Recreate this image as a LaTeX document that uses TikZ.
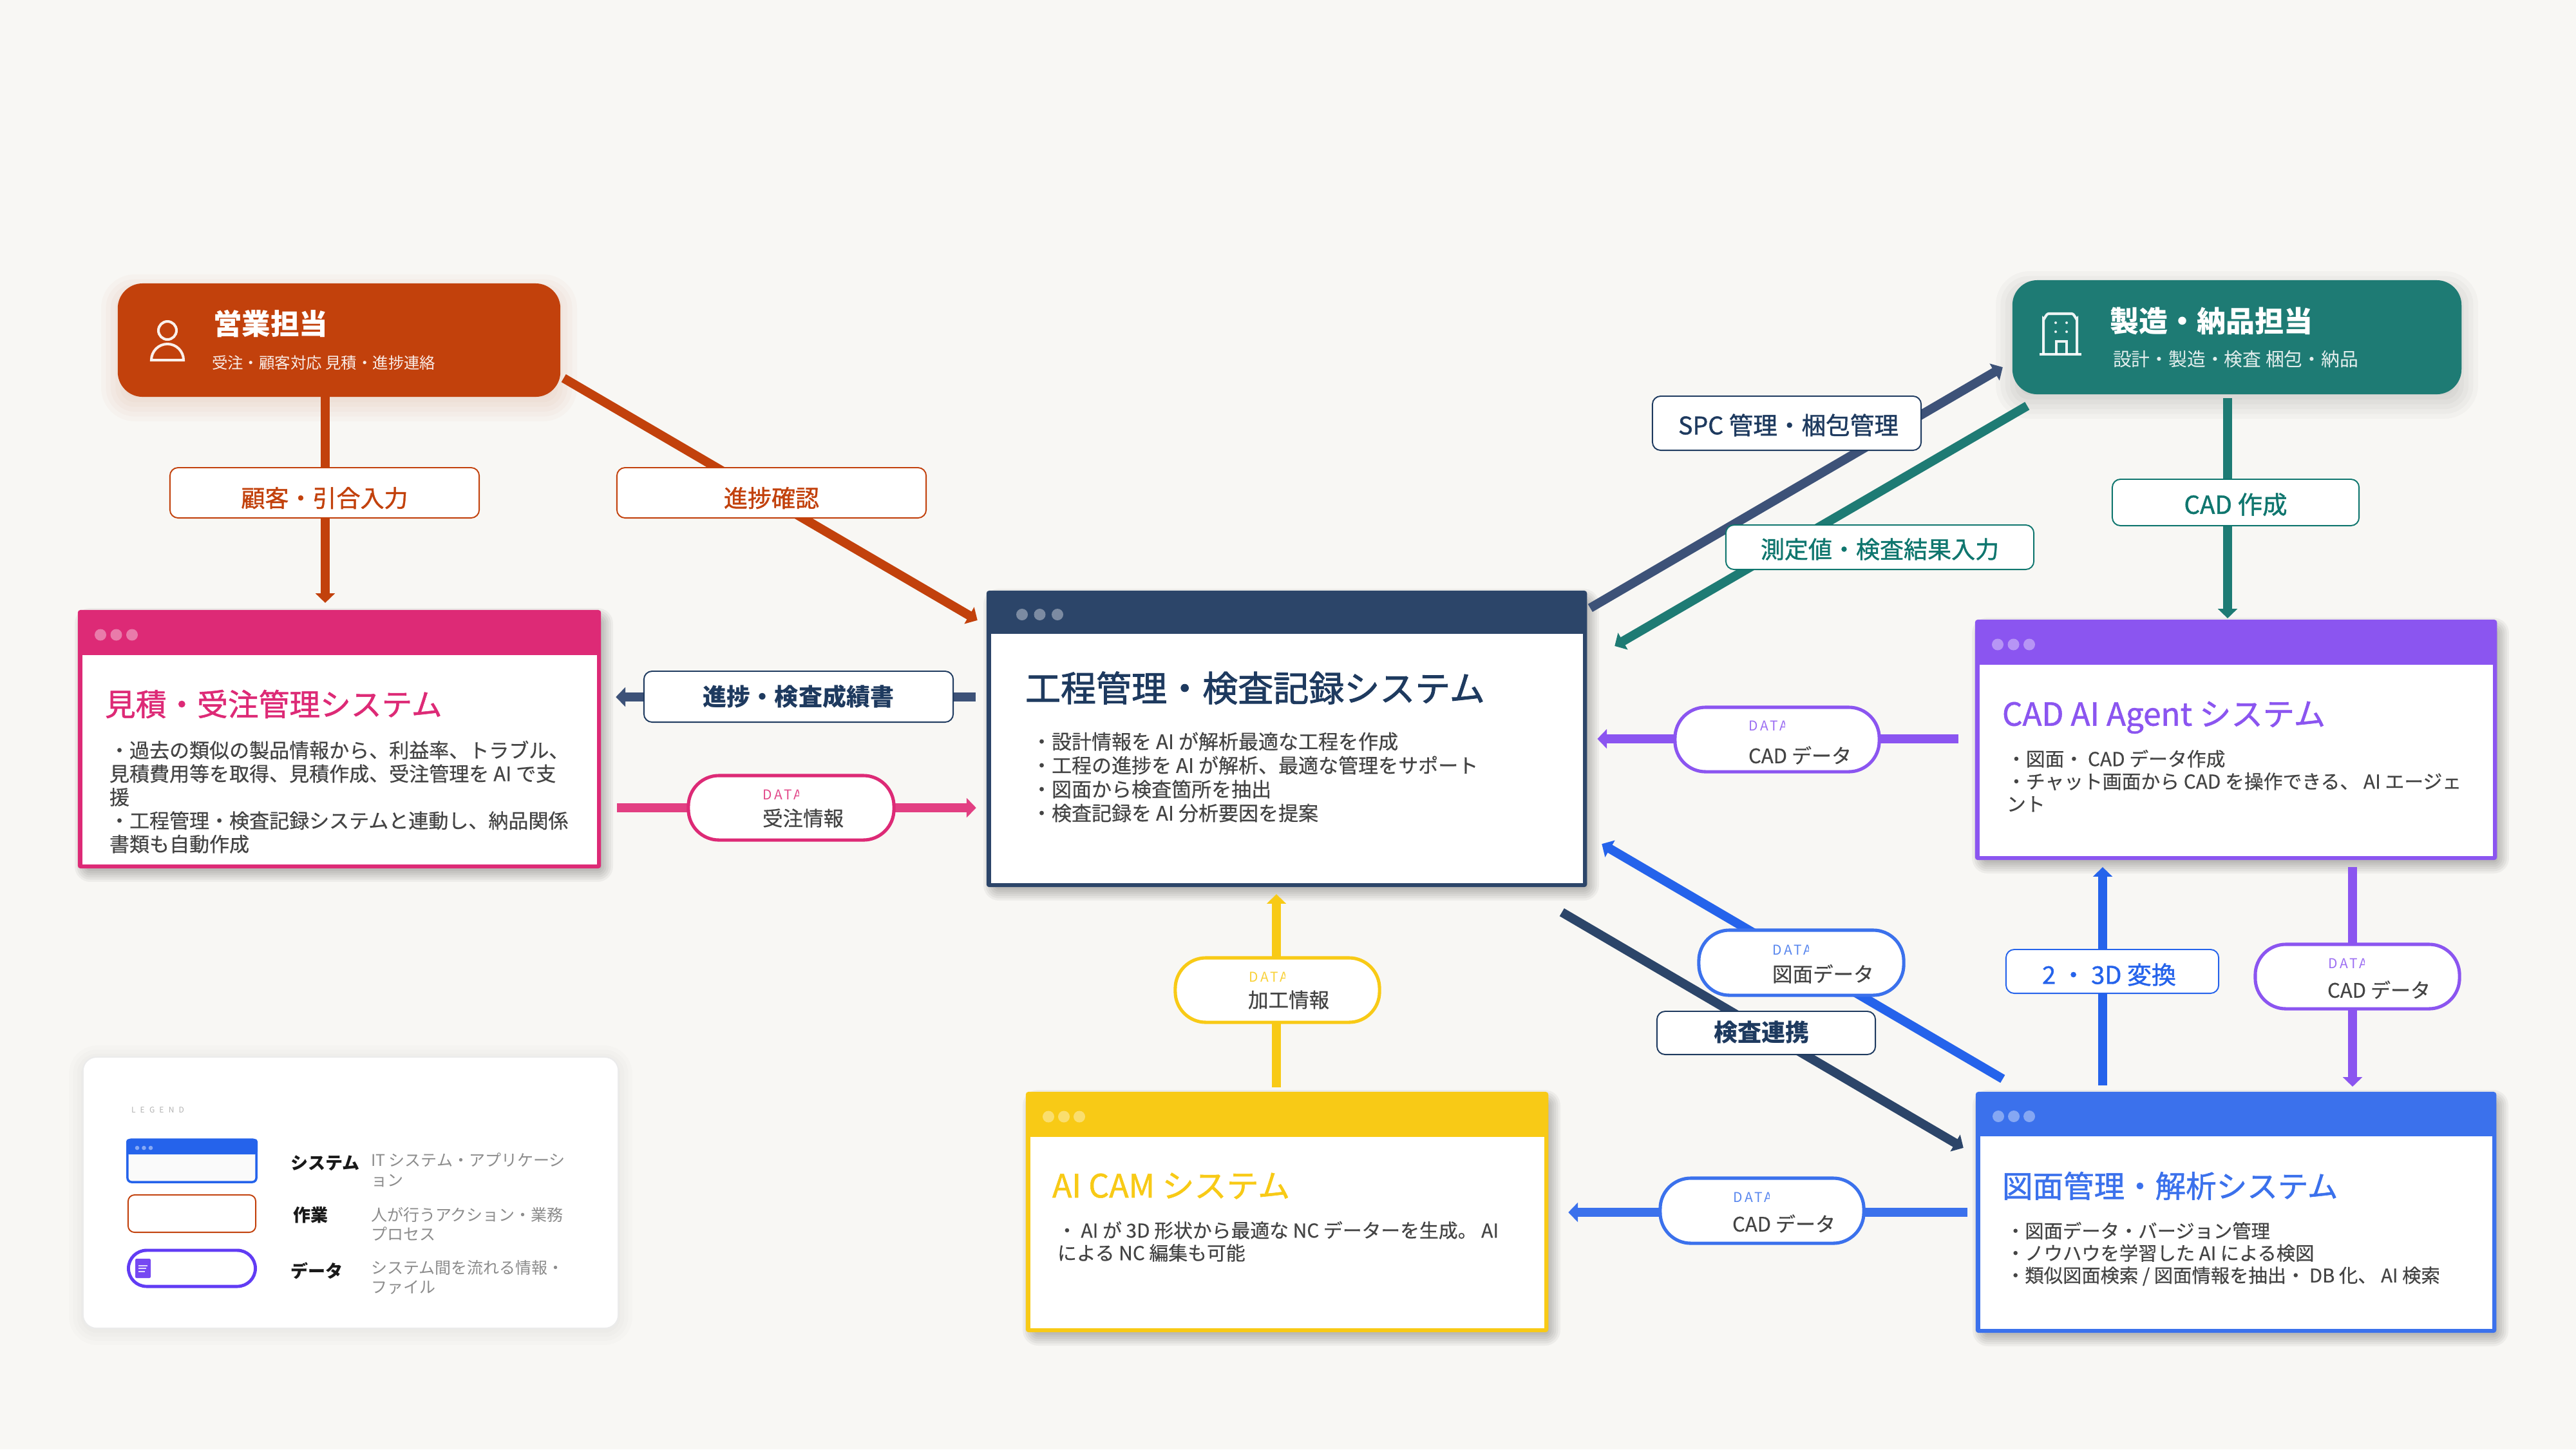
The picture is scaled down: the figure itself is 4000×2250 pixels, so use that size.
\documentclass[tikz,border=0pt]{standalone}
\usepackage{fontspec}
\setmainfont{Noto Sans CJK JP}
\newfontfamily\medfont[FakeBold=1.1]{Noto Sans CJK JP}
\newfontfamily\semifont[FakeBold=1.6]{Noto Sans CJK JP}
\newfontfamily\bodyfont[FakeBold=0.4]{Noto Sans CJK JP}
\newfontfamily\dataspaced[LetterSpace=18]{Noto Sans CJK JP}
\newfontfamily\legendspaced[LetterSpace=60]{Noto Sans CJK JP}
\usetikzlibrary{arrows.meta,calc}
\newdimen\pxu \pxu=0.28453pt
\newcommand\fpx[2]{\fontsize{#1\pxu}{#2\pxu}\selectfont}
\newcommand\cj{\rule[-.12em]{0pt}{1em}}
\definecolor{bgc}{HTML}{F8F7F4}
\definecolor{salesc}{HTML}{C2410C}
\definecolor{tealc}{HTML}{1E7B74}
\definecolor{tealt}{HTML}{0F766E}
\definecolor{pinkc}{HTML}{DD2A76}
\definecolor{pinkl}{HTML}{E23F82}
\definecolor{navyc}{HTML}{2C4569}
\definecolor{navyt}{HTML}{1E3A5F}
\definecolor{navyl}{HTML}{3D5278}
\definecolor{purpc}{HTML}{8B55F0}
\definecolor{bluec}{HTML}{3B71EC}
\definecolor{bluel}{HTML}{2563EB}
\definecolor{yelc}{HTML}{F8CA16}
\definecolor{bodyc}{HTML}{444444}
\tikzset{
  flow/.style={draw=#1,line width=4pt,-{Triangle[length=4.2pt,width=8.4pt]}},
  tagbox/.style={draw=#1,fill=white,line width=.55pt,rounded corners=3.6pt,inner sep=0pt,text=#1},
  pill/.style={draw=#1,fill=white,line width=1.45pt,rounded corners=13.5pt,inner sep=0pt},
  tx/.style={anchor=west,inner sep=0pt,outer sep=0pt},
  bodyblock/.style={anchor=north west,inner sep=0pt,outer sep=0pt,align=left,text=bodyc},
  winbox/.style={fill=#1,inner sep=0pt,outer sep=0pt,rounded corners=1.2pt},
  actor/.style={fill=#1,inner sep=0pt,outer sep=0pt,rounded corners=11pt},
  iconline/.style={draw=white,line width=1.15pt,opacity=.92}
}
% soft shadow: x1 y1 x2 y2 dx dy blur opacity colour
\newcommand\softshadow[9]{%
  \foreach \i in {0,...,7}{%
    \pgfmathsetmacro\e{#7*(1-2*\i/7)}%
    \pgfmathsetmacro\r{max(1,(\e+#7)*0.2845)}%
    \fill[#9,opacity=#8,rounded corners=\r pt]
      ({#1+#5-\e},{#2+#6-\e}) rectangle ({#3+#5+\e},{#4+#6+\e});
  }%
}
% window: name x1 y1 x2 y2 headerbottom colour dotdx dotstep
\newcommand\window[9]{%
  \softshadow{#2}{#3}{#4}{#5}{7}{9}{12}{.042}{black}%
  \pgfmathsetmacro\cx{(#2+#4)/2}\pgfmathsetmacro\cy{(#3+#5)/2}%
  \pgfmathsetmacro\ww{(#4-#2)/100}\pgfmathsetmacro\hh{(#5-#3)/100}%
  \node[winbox=#7,minimum width=\ww cm,minimum height=\hh cm] (#1) at (\cx,\cy) {};
  \fill[white] ({#2+6.5},#6) rectangle ({#4-6.5},{#5-6.5});
  \pgfmathsetmacro\dy{(#3+#6)/2+3.5}%
  \foreach \k in {0,1,2}{\fill[white,opacity=.38] ({#2+#8+\k*#9},\dy) circle (9);}%
}
\newcommand\tx[6]{\node[tx,font=\fpx{#4}{#4},text=#5] (#1) at (#2,#3) {\cj #6};}
\newcommand\bdtx[6]{\node[tx,font=\bodyfont\fpx{#4}{#4},text=#5] (#1) at (#2,#3) {\cj #6};}
\newcommand\medtx[6]{\node[tx,font=\medfont\fpx{#4}{#4},text=#5] (#1) at (#2,#3) {\cj #6};}
\newcommand\semitx[6]{\node[tx,font=\semifont\fpx{#4}{#4},text=#5] (#1) at (#2,#3) {\cj #6};}
\newcommand\boldtx[6]{\node[tx,font=\bfseries\fpx{#4}{#4},text=#5] (#1) at (#2,#3) {\cj #6};}
\newcommand\datatag[4]{%
  \begin{scope}
    \clip ({#2-3},{#3-16}) rectangle ({#2+56},{#3+16});
    \node[tx,font=\dataspaced\fpx{21}{21},text=#4,opacity=.85] (#1) at (#2,#3) {DATA};
  \end{scope}}
\newcommand\lbl[2]{\raisebox{-#1\pxu}[.88em][.12em]{#2}}
\begin{document}
\begin{tikzpicture}[x=0.01cm,y=-0.01cm]
\useasboundingbox (0,0) rectangle (4000,2250);
\fill[bgc] (0,0) rectangle (4000,2250);

% actors
\softshadow{183}{440}{870}{616}{0}{12}{26}{.022}{salesc}
\node[actor=salesc,minimum width=6.87cm,minimum height=1.76cm] (sales) at (526.5,528) {};
\softshadow{3125}{435}{3822}{612}{0}{12}{26}{.022}{black}
\node[actor=tealc,minimum width=6.97cm,minimum height=1.77cm] (maker) at (3473.5,523.5) {};

% person icon
\draw[iconline] (260,513) circle (14);
\draw[iconline] (235,559) arc[start angle=180,end angle=360,x radius=25,y radius=25] -- cycle;
% building icon
\draw[iconline] (3173,550) -- (3173,495) to[out=-90,in=180] (3181,487) -- (3217,487) to[out=0,in=-90] (3225,495) -- (3225,550);
\draw[iconline] (3167,550) -- (3232,550);
\draw[iconline] (3193,550) -- (3193,530) -- (3209,530) -- (3209,550);
\foreach \px in {3192,3209}\foreach \py in {501,515}{\fill[white,opacity=.9] (\px,\py) circle (2);}

\boldtx{salesT}{331}{503}{44.5}{white}{営業担当}
\tx{salesS}{329}{563}{24.4}{white!90!salesc}{受注・顧客対応 見積・進捗連絡}
\boldtx{makerT}{3276}{498}{45}{white}{製造・納品担当}
\tx{makerS}{3281}{558}{28.8}{white!88!tealc}{設計・製造・検査 梱包・納品}

% windows
\window{estim}{121}{947}{933}{1348}{1017}{pinkc}{35}{24.5}
\window{proc}{1532}{917}{2464}{1377}{984}{navyc}{55}{27.5}
\window{cadai}{3067}{962}{3877}{1335}{1032}{purpc}{35}{24.5}
\window{cam}{1593}{1695}{2404}{2068}{1765}{yelc}{35}{24}
\window{plan}{3068}{1695}{3876}{2069}{1764}{bluec}{35}{24}

\medtx{estimT}{163}{1093}{47.7}{pinkc}{見積・受注管理システム}
\node[bodyblock,font=\bodyfont\fpx{31}{36.4}] (estimB) at (170,1149) {\cj ・過去の類似の製品情報から、利益率、トラブル、\\見積費用等を取得、見積作成、受注管理を AI で支\\援\\・工程管理・検査記録システムと連動し、納品関係\\書類も自動作成};

\semitx{procT}{1592}{1068}{55}{navyt}{工程管理・検査記録システム}
\node[bodyblock,font=\bodyfont\fpx{31}{37}] (procB) at (1602,1135.5) {\cj ・設計情報を AI が解析最適な工程を作成\\・工程の進捗を AI が解析、最適な管理をサポート\\・図面から検査箇所を抽出\\・検査記録を AI 分析要因を提案};

\medtx{cadaiT}{3109}{1111}{49.3}{purpc}{CAD AI Agent システム}
\node[bodyblock,font=\bodyfont\fpx{29.8}{35}] (cadaiB) at (3116,1163) {\cj ・図面・ CAD データ作成\\・チャット画面から CAD を操作できる、 AI エージェ\\ント};

\medtx{camT}{1634}{1840}{50}{yelc}{AI CAM システム}
\node[bodyblock,font=\bodyfont\fpx{29.8}{35}] (camB) at (1642,1895) {\cj ・ AI が 3D 形状から最適な NC データーを生成。 AI\\による NC 編集も可能};

\medtx{planT}{3109}{1841}{47.5}{bluec}{図面管理・解析システム}
\node[bodyblock,font=\bodyfont\fpx{29.3}{34.5}] (planB) at (3115,1896) {\cj ・図面データ・バージョン管理\\・ノウハウを学習した AI による検図\\・類似図面検索 / 図面情報を抽出・ DB 化、 AI 検索};

% connectors
\draw[flow=salesc] ([shift={(-21.5,0)}]sales.south) -- ([shift={(-22,-11)}]estim.north);
\draw[flow=salesc] ([shift={(5,-29)}]sales.south east) -- ([shift={(-14,46)}]proc.north west);
\draw[flow=navyl] ([shift={(-17,-65)}]proc.west) -- ([shift={(23,-65.5)}]estim.east);
\draw[flow=pinkl] ([shift={(25,106.5)}]estim.east) -- ([shift={(-16,107)}]proc.west);
\draw[flow=navyl] ([shift={(5,27)}]proc.north east) -- ([shift={(-15,-42)}]maker.south west);
\draw[flow=tealc] ([shift={(23,18)}]maker.south west) -- ([shift={(43,86)}]proc.north east);
\draw[flow=tealc] ([shift={(-14.5,6)}]maker.south) -- ([shift={(-13,-2)}]cadai.north);
\draw[flow=purpc] ([shift={(-26,-1.5)}]cadai.west) -- ([shift={(16,0)}]proc.east);
\draw[flow=bluel] ([shift={(42,-20)}]plan.north west) -- ([shift={(23,-67)}]proc.south east);
\draw[flow=navyc] ([shift={(-39,39)}]proc.south east) -- ([shift={(-19,87)}]plan.north west);
\draw[flow=bluel] ([shift={(-207,-10)}]plan.north) -- ([shift={(-207,11)}]cadai.south);
\draw[flow=purpc] ([shift={(181,11)}]cadai.south) -- ([shift={(181,-8)}]plan.north);
\draw[flow=bluec] ([shift={(-13,0)}]plan.west) -- ([shift={(31,.5)}]cam.east);
\draw[flow=yelc] ([shift={(-16.5,-7)}]cam.north) -- ([shift={(-16,11)}]proc.south);

% task labels
\node[tagbox=salesc,font=\medfont\fpx{37}{37},minimum width=4.8cm,minimum height=.78cm] (tagCust) at (504,765) {\lbl{8}{顧客・引合入力}};
\node[tagbox=salesc,font=\medfont\fpx{37}{37},minimum width=4.8cm,minimum height=.78cm] (tagProg) at (1198,765) {\lbl{8}{進捗確認}};
\node[tagbox=navyt,font=\bfseries\fpx{37}{37},minimum width=4.8cm,minimum height=.79cm] (tagRep) at (1240,1081.5) {\lbl{0}{進捗・検査成績書}};
\node[tagbox=navyt,font=\medfont\fpx{37.6}{37.6},minimum width=4.17cm,minimum height=.84cm] (tagSpc) at (2774.5,657) {\lbl{3}{\kern5\pxu SPC 管理・梱包管理}};
\node[tagbox=tealt,font=\medfont\fpx{37}{37},minimum width=4.78cm,minimum height=.69cm] (tagMeas) at (2919,849.5) {\lbl{3}{測定値・検査結果入力}};
\node[tagbox=tealt,font=\medfont\fpx{38.5}{38.5},minimum width=3.83cm,minimum height=.72cm] (tagCad) at (3471.5,780) {\lbl{3}{CAD 作成}};
\node[tagbox=navyt,font=\bfseries\fpx{37}{37},minimum width=3.39cm,minimum height=.67cm] (tagInsp) at (2742.5,1603.5) {\lbl{-1}{検査連携\kern14\pxu}};
\node[tagbox=bluel,font=\medfont\fpx{38}{38},minimum width=3.3cm,minimum height=.68cm] (tagConv) at (3280,1508) {\lbl{5}{2 ・ 3D 変換\kern10\pxu}};

% data pills
\node[pill=pinkc,minimum width=3.19cm,minimum height=1cm] (pOrder) at (1228.5,1254) {};
\datatag{dOrder}{1184}{1234}{pinkc}
\bdtx{tOrder}{1184}{1270}{31.5}{bodyc}{受注情報}

\node[pill=purpc,minimum width=3.17cm,minimum height=1cm] (pCad1) at (2759.5,1148) {};
\datatag{dCad1}{2715}{1127}{purpc}
\bdtx{tCad1}{2715}{1173}{31}{bodyc}{CAD データ}

\node[pill=bluec,minimum width=3.18cm,minimum height=1.01cm] (pPlan) at (2797,1494.5) {};
\datatag{dPlan}{2752}{1475}{bluec}
\bdtx{tPlan}{2752}{1512}{31.5}{bodyc}{図面データ}

\node[pill=purpc,minimum width=3.17cm,minimum height=1cm] (pCad2) at (3660.5,1516) {};
\datatag{dCad2}{3615}{1496}{purpc}
\bdtx{tCad2}{3614}{1537}{31}{bodyc}{CAD データ}

\node[pill=bluec,minimum width=3.16cm,minimum height=1.01cm] (pCad3) at (2736,1879.5) {};
\datatag{dCad3}{2691}{1859}{bluec}
\bdtx{tCad3}{2690}{1900}{31}{bodyc}{CAD データ}

\node[pill=yelc,minimum width=3.17cm,minimum height=1cm] (pCam) at (1983.5,1537) {};
\datatag{dCam}{1939}{1517}{yelc}
\bdtx{tCam}{1938}{1552}{31.5}{bodyc}{加工情報}

% legend
\softshadow{129}{1641}{960}{2062}{0}{4}{22}{.012}{black}
\node[draw=black!8,fill=white,line width=.6pt,rounded corners=6pt,inner sep=0pt,minimum width=8.31cm,minimum height=4.21cm] (legend) at (544.5,1851.5) {};
\node[tx,font=\legendspaced\fpx{12}{12},text=black!30] (legendT) at (204,1723) {LEGEND};

\node[draw=bluel,fill=black!2,line width=1pt,rounded corners=1.8pt,inner sep=0pt,minimum width=2.0cm,minimum height=.66cm] (lgSys) at (298,1802) {};
\fill[bluel,rounded corners=1.2pt] (196,1768) rectangle (400,1792);
\foreach \k in {0,1,2}{\fill[white,opacity=.45] ({213+\k*10.5},1782) circle (3.3);}
\node[draw=salesc,fill=white,line width=.55pt,rounded corners=2.8pt,inner sep=0pt,minimum width=1.98cm,minimum height=.58cm] (lgTask) at (298,1884) {};
\node[draw=purpc!70!blue,fill=white,line width=1.4pt,rounded corners=8pt,inner sep=0pt,minimum width=1.97cm,minimum height=.56cm] (lgData) at (298,1969) {};
\fill[purpc!85!blue,rounded corners=.6pt] (210,1954) rectangle (234,1984);
\foreach \yy/\xx in {1965/229,1969/227,1974/225}{\draw[white,opacity=.8,line width=.35pt] (215,\yy) -- (\xx,\yy);}

\boldtx{lgSysT}{451}{1805}{27}{black!90}{システム}
\boldtx{lgTaskT}{455}{1886}{27}{black!90}{作業}
\boldtx{lgDataT}{451}{1973}{27}{black!90}{データ}
\node[bodyblock,font=\fpx{25}{31},text=black!45] (lgSysD) at (576,1788.5) {\cj IT システム・アプリケーシ\\ョン};
\node[bodyblock,font=\fpx{25}{30},text=black!45] (lgTaskD) at (576,1873.5) {\cj 人が行うアクション・業務\\プロセス};
\node[bodyblock,font=\fpx{25}{30},text=black!45] (lgDataD) at (576,1955.5) {\cj システム間を流れる情報・\\ファイル};
\end{tikzpicture}
\end{document}
